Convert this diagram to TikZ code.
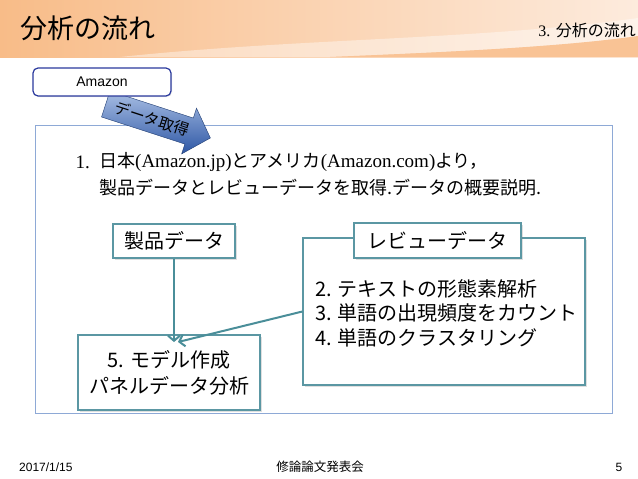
\documentclass[tikz,border=0pt]{standalone}
\usepackage{fontspec}
\setmainfont{Liberation Serif}
\setsansfont{Liberation Sans}
\newfontfamily\jp{Noto Sans CJK JP}
\usepackage{tikz}
\usetikzlibrary{shapes,shapes.arrows,positioning,shadows,arrows.meta}
\definecolor{tealb}{HTML}{5B97A3}
\definecolor{teala}{HTML}{4A8E99}
\definecolor{navyb}{HTML}{2B3A9E}
\definecolor{frameb}{HTML}{8EA9D6}
\definecolor{hdra}{HTML}{F8BC88}
\definecolor{hdrb}{HTML}{FDEBDD}
\definecolor{arra}{HTML}{A9BFE4}
\definecolor{arrb}{HTML}{2E57A5}
\tikzset{box/.style={draw=tealb,line width=1.2pt,fill=white,inner sep=0pt,font=\jp\fontsize{20}{25}\selectfont,drop shadow={shadow xshift=2pt,shadow yshift=-2pt,opacity=0.25}}}
\tikzset{flow/.style={teala,line width=2pt,-{Straight Barb[length=5pt,width=12pt]}}}

\begin{document}
\begin{tikzpicture}[x=1pt,y=-1pt]
        \useasboundingbox (0,0) rectangle (638,479);
        \fill[white] (0,0) rectangle (638,479);
        % header band
        \fill[left color=hdra,right color=hdrb] (0,0) rectangle (638,57);
        \fill[white,opacity=0.4] (120,57) .. controls (300,38) and (480,40) .. (638,18) -- (638,36) .. controls (560,47) and (450,52) .. (330,57) -- cycle;
        \fill[hdra!85!hdrb] (330,57) .. controls (450,52) and (560,47) .. (638,36) -- (638,57) -- cycle;
        \node[anchor=west,inner sep=0pt,font=\jp\fontsize{27}{30}\selectfont] (title)at (20,28) {分析の流れ};
        \node[anchor=east,inner sep=0pt,font=\fontsize{16}{18}\selectfont] (sect)at (636,30) {3. {\jp 分析の流れ}};

        % outer frame
        \node[draw=frameb,line width=0.8pt,minimum width=577pt,minimum height=288pt,inner sep=0pt] (frame)at (323.5,269) {};

        \node[single arrow,draw=arrb!70!black,line width=0.4pt,top color=arra,bottom color=arrb,minimum height=110pt,minimum width=48pt,single arrow head extend=9pt,single arrow tip angle=94,inner sep=4.5pt,rotate=-18,font=\jp\fontsize{15.5}{17}\selectfont] (get)at (152,119) {データ取得};
        \node[draw=navyb,line width=1.2pt,fill=white,rounded corners=5pt,minimum width=138pt,minimum height=28pt,font=\sffamily\fontsize{14}{16}\selectfont,drop shadow={shadow xshift=1pt,shadow yshift=-1pt,opacity=0.2}] (amazon)at (102,82) {Amazon};

        % item 1
        \node[anchor=east,inner sep=0pt,font=\fontsize{19}{22}\selectfont] (num)at (90,162) {1.};
        \node[anchor=west,inner sep=0pt,font=\fontsize{19}{22}\selectfont] (introa)at (99,162) {{\jp\fontsize{18}{22}\selectfont 日本}(Amazon.jp){\jp\fontsize{18}{22}\selectfont とアメリカ}(Amazon.com){\jp\fontsize{18}{22}\selectfont より，}};
        \node[anchor=west,inner sep=0pt,font=\jp\fontsize{18}{22}\selectfont] (introb)at (99,188) {製品データとレビューデータを取得.データの概要説明.};

        % data boxes
        \node[box,minimum width=122pt,minimum height=34pt] (prod)at (174,241) {製品データ};
        \node[box,minimum width=282pt,minimum height=147pt] (review)at (444,311.5) {};
        \node[box,minimum width=167pt,minimum height=35pt] (revlab)at (437.5,240.5) {レビューデータ};
        \node[anchor=west,align=left,inner sep=0pt,font=\jp\fontsize{20}{24.5}\selectfont] (steps)at (315,313) {2. テキストの形態素解析\\3. 単語の出現頻度をカウント\\4. 単語のクラスタリング};
        \node[box,minimum width=182pt,minimum height=75pt,align=center,font=\jp\fontsize{20}{26}\selectfont] (model)at (169,372.5) {5. モデル作成\\パネルデータ分析};

        \coordinate (tip)at (178,342);
        \draw [flow] (prod.south) to [] (prod.south |- tip);
        \draw [flow] (review.west) to [] (tip);

        % footer
        \node[anchor=west,inner sep=0pt,font=\sffamily\fontsize{12}{14}\selectfont] (date)at (19,467) {2017/1/15};
        \node[inner sep=0pt,font=\jp\fontsize{12.5}{14}\selectfont] (event)at (320,467) {修論論文発表会};
        \node[inner sep=0pt,font=\sffamily\fontsize{12}{14}\selectfont] (page)at (619,467) {5};
    \end{tikzpicture}
\end{document}
